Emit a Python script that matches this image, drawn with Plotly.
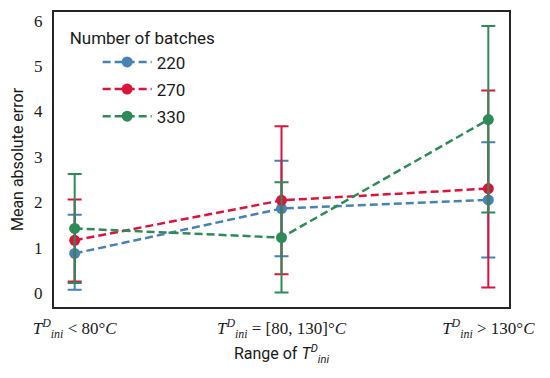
import plotly.graph_objects as go

categories = ["<i>T</i><sup><i>D</i></sup><sub><i>ini</i></sub> &lt; 80°<i>C</i>",
              "<i>T</i><sup><i>D</i></sup><sub><i>ini</i></sub> = [80, 130]°<i>C</i>",
              "<i>T</i><sup><i>D</i></sup><sub><i>ini</i></sub> &gt; 130°<i>C</i>"]
series_names = ["220", "270", "330"]
mean_220 = [0.87, 1.86, 2.05]
upper_220 = [1.72, 2.91, 3.32]
lower_220 = [0.07, 0.81, 0.78]
mean_270 = [1.16, 2.04, 2.30]
upper_270 = [2.06, 3.67, 4.46]
lower_270 = [0.25, 0.41, 0.12]
mean_330 = [1.42, 1.22, 3.82]
upper_330 = [2.62, 2.44, 5.88]
lower_330 = [0.22, 0.01, 1.77]
yticks = [0, 1, 2, 3, 4, 5, 6]

colors = ["steelblue", "crimson", "seagreen"]
means = [mean_220, mean_270, mean_330]
uppers = [upper_220, upper_270, upper_330]
lowers = [lower_220, lower_270, lower_330]

SANS = "Roboto"
SERIF = "Liberation Serif"

xs = list(range(len(categories)))
fig = go.Figure()
for name, m, u, l, c in zip(series_names, means, uppers, lowers, colors):
    fig.add_trace(go.Scatter(
        x=xs, y=m, name=name, mode="lines+markers", legendgroup=name,
        line=dict(color=c, width=2.5, dash="8px,4px"),
        marker=dict(color=c, size=11),
        error_y=dict(type="data", symmetric=False,
                     array=[a - b for a, b in zip(u, m)],
                     arrayminus=[b - a for a, b in zip(l, m)],
                     color=c, thickness=2, width=7),
    ))

# the page body adds an 8px offset; margins compensate for it
fig.update_layout(
    width=550, height=378,
    margin=dict(l=46, r=49, t=4, b=79),
    plot_bgcolor="white", paper_bgcolor="white",
    font=dict(family=SANS, size=16, color="#1a1a1a"),
    legend=dict(x=0.03, y=0.965, xanchor="left", yanchor="top",
                title=dict(text="Number of batches", font=dict(size=17)),
                font=dict(size=17), bgcolor="rgba(255,255,255,0)",
                indentation=30, itemwidth=49, tracegroupgap=2),
    xaxis=dict(range=[-0.1, 2.1], tickvals=xs, ticktext=categories,
               showgrid=False, zeroline=False, showline=True, mirror=True,
               linecolor="#262626", linewidth=2, ticks="", automargin=False,
               ticklabelstandoff=5,
               tickfont=dict(family=SERIF, size=17),
               title=dict(text="Range of <i>T</i><sup><i>D</i></sup><sub><i>ini</i></sub>",
                          font=dict(size=16), standoff=8)),
    yaxis=dict(range=[-0.31, 6.19], tickvals=yticks,
               showgrid=False, zeroline=False, showline=True, mirror=True,
               linecolor="#262626", linewidth=2, ticks="", automargin=False,
               ticklabelstandoff=6,
               tickfont=dict(family=SERIF, size=17),
               title=dict(text="Mean absolute error", font=dict(size=16), standoff=11)),
)
fig.write_html("out.html")
